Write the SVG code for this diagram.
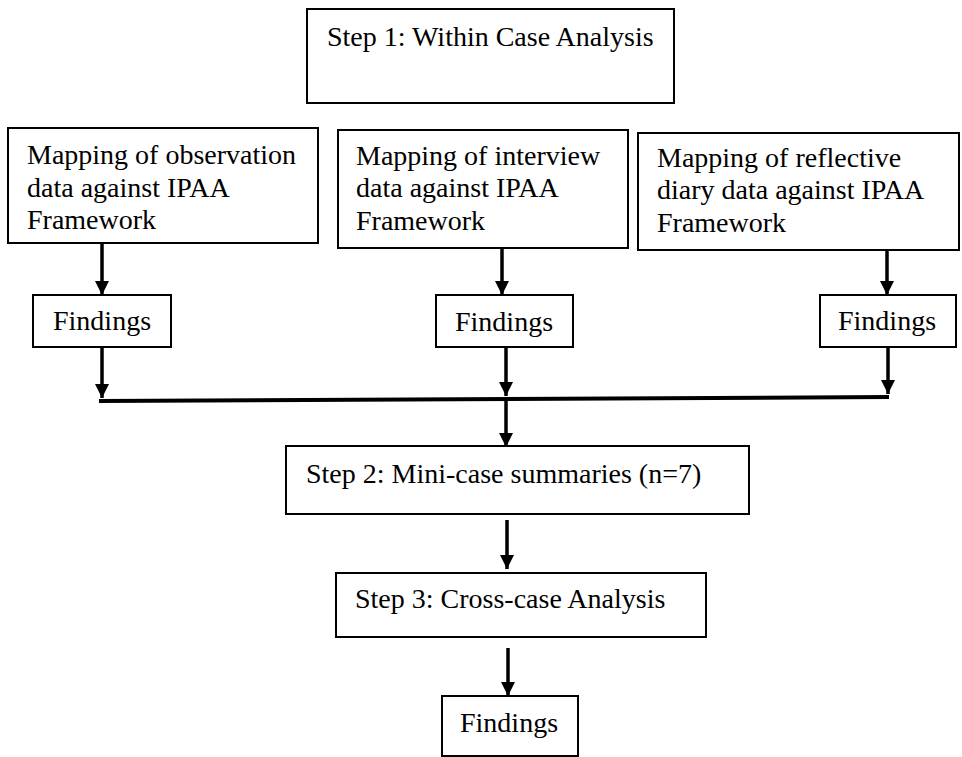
<svg xmlns="http://www.w3.org/2000/svg" width="962" height="757" viewBox="0 0 962 757">
<style>
.box{fill:#fff;stroke:#000;stroke-width:2}
.t{font-family:"Liberation Serif","Times New Roman",serif;font-size:28px;fill:#000}
.c{stroke:#000;stroke-width:3.5;fill:none}
</style>
<defs>
<marker id="ah" markerUnits="userSpaceOnUse" markerWidth="14" markerHeight="15" refX="14" refY="7" orient="auto" viewBox="0 0 14 14">
<path d="M0,0 L14,7 L0,14 z" fill="#000"/>
</marker>
</defs>
<rect width="962" height="757" fill="#fff"/>
<g id="connectors">
<line class="c" x1="102" y1="243" x2="102" y2="295" marker-end="url(#ah)"/>
<line class="c" x1="502" y1="248" x2="502" y2="295" marker-end="url(#ah)"/>
<line class="c" x1="887" y1="250" x2="887" y2="295" marker-end="url(#ah)"/>
<line class="c" x1="102" y1="347" x2="102" y2="398" marker-end="url(#ah)"/>
<line class="c" x1="506" y1="347" x2="506" y2="396" marker-end="url(#ah)"/>
<line class="c" x1="888" y1="347" x2="888" y2="394" marker-end="url(#ah)"/>
<line stroke="#000" stroke-width="4" x1="99" y1="401" x2="889" y2="397"/>
<line class="c" x1="506" y1="399" x2="506" y2="447" marker-end="url(#ah)"/>
<line class="c" x1="507" y1="520" x2="507" y2="569" marker-end="url(#ah)"/>
<line class="c" x1="508" y1="648" x2="508" y2="696" marker-end="url(#ah)"/>
</g>
<g id="step1">
<rect class="box" x="307" y="9" width="367" height="94"/>
<text class="t" x="327" y="46">Step 1: Within Case Analysis</text>
</g>
<g id="map-observation">
<rect class="box" x="8" y="128" width="310" height="115"/>
<text class="t" x="27" y="164">Mapping of observation</text>
<text class="t" x="27" y="197">data against IPAA</text>
<text class="t" x="27" y="229">Framework</text>
</g>
<g id="map-interview">
<rect class="box" x="338" y="130" width="290" height="118"/>
<text class="t" x="356" y="165">Mapping of interview</text>
<text class="t" x="356" y="197">data against IPAA</text>
<text class="t" x="356" y="230">Framework</text>
</g>
<g id="map-diary">
<rect class="box" x="638" y="133" width="321" height="117"/>
<text class="t" x="657" y="167">Mapping of reflective</text>
<text class="t" x="657" y="199">diary data against IPAA</text>
<text class="t" x="657" y="232">Framework</text>
</g>
<g id="findings-1">
<rect class="box" x="33" y="295" width="138" height="52"/>
<text class="t" x="53" y="330">Findings</text>
</g>
<g id="findings-2">
<rect class="box" x="436" y="295" width="137" height="52"/>
<text class="t" x="455" y="331">Findings</text>
</g>
<g id="findings-3">
<rect class="box" x="820" y="295" width="136" height="52"/>
<text class="t" x="838" y="330">Findings</text>
</g>
<g id="step2">
<rect class="box" x="286" y="446" width="463" height="68"/>
<text class="t" x="306" y="483">Step 2: Mini-case summaries (n=7)</text>
</g>
<g id="step3">
<rect class="box" x="336" y="573" width="370" height="64"/>
<text class="t" x="355" y="608">Step 3: Cross-case Analysis</text>
</g>
<g id="findings-final">
<rect class="box" x="442" y="696" width="136" height="60"/>
<text class="t" x="460" y="732">Findings</text>
</g>
</svg>
